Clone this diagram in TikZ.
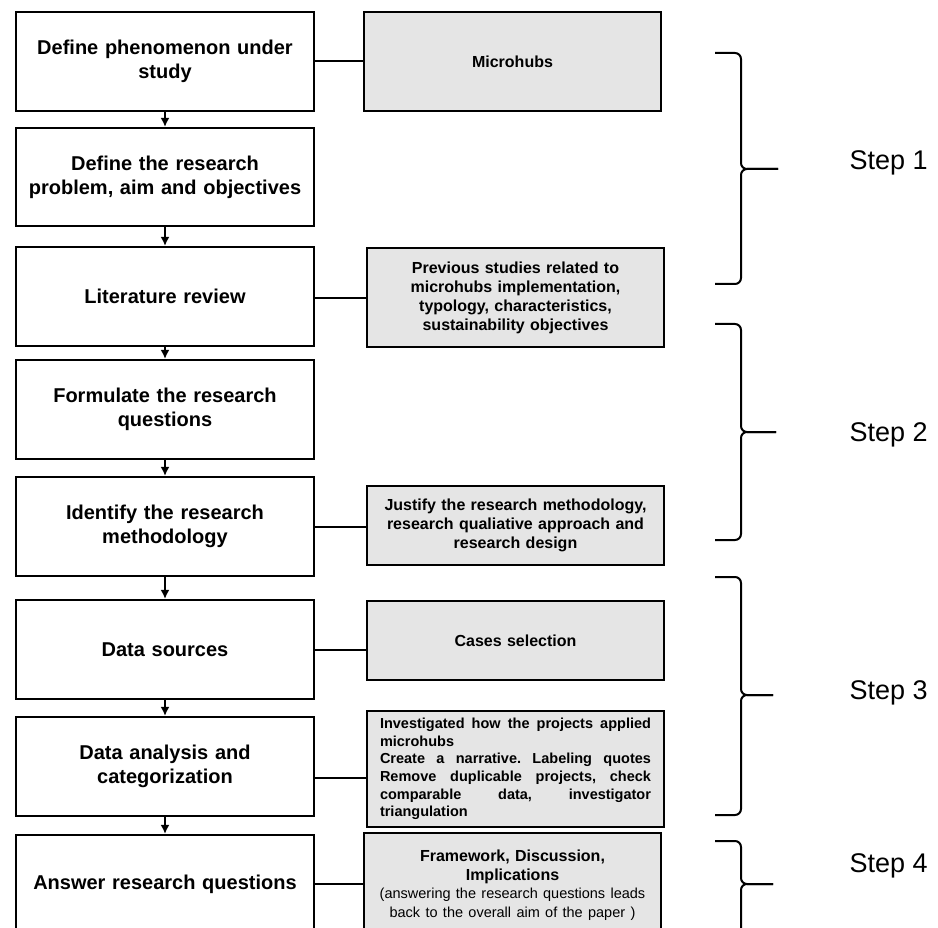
\documentclass[tikz,border=0pt]{standalone}
\usepackage{fontspec}
\setmainfont{Liberation Sans}
\usetikzlibrary{arrows.meta,positioning}
\definecolor{notegray}{RGB}{229,229,229}

\tikzset{
  stage/.style={draw, line width=2.2pt, fill=white, minimum width=298pt, text width=286pt, align=center, inner sep=0pt, font=\fontsize{20}{24}\selectfont\bfseries},
  note/.style={draw, line width=2.2pt, fill=notegray, minimum width=297pt, text width=274pt, align=center, inner sep=0pt, font=\fontsize{16}{19}\selectfont\bfseries},
  flow/.style={line width=1.8pt, -{Latex[length=9pt,width=9pt]}},
  link/.style={line width=2pt},
  curly/.style={line width=2pt, rounded corners=6pt},
  steplabel/.style={anchor=west, font=\fontsize{27}{30}\selectfont}
}

\begin{document}
\begin{tikzpicture}[x=1pt,y=-1pt]
    \useasboundingbox (0,0) rectangle (938,928);
    \clip (0,0) rectangle (938,928);

    \node[stage, minimum height=99pt] (phen) at (165,61.5) {Define phenomenon under\\study};
    \node[stage, minimum height=98pt] (prob) at (165,177) {Define the research\\problem, aim and objectives};
    \node[stage, minimum height=99pt] (lit) at (165,296.5) {Literature review};
    \node[stage, minimum height=99pt] (quest) at (165,409.5) {Formulate the research\\questions};
    \node[stage, minimum height=99pt] (meth) at (165,526.5) {Identify the research\\methodology};
    \node[stage, minimum height=99pt] (src) at (165,649.5) {Data sources};
    \node[stage, minimum height=99pt] (anal) at (165,766.5) {Data analysis and\\categorization};
    \node[stage, minimum height=98pt] (ans) at (165,884) {Answer research questions};

    \node[note, minimum height=99pt] (hubs) at (512.5,61.5) {Microhubs};
    \node[note, minimum height=99pt] (prev) at (515.5,297.5) {Previous studies related to\\microhubs implementation,\\typology, characteristics,\\sustainability objectives};
    \node[note, minimum height=79pt] (just) at (515.5,525.5) {Justify the research methodology,\\research qualiative approach and\\research design};
    \node[note, minimum height=79pt] (cases) at (515.5,640.5) {Cases selection};
    \node[note, minimum height=116pt, text width=271pt, align=left, font=\fontsize{14.5}{17.7}\selectfont\bfseries] (inv) at (515.5,769)
        {\hbox to 271pt{Investigated\hfill how\hfill the\hfill projects\hfill applied}
         microhubs\\
         \hbox to 271pt{Create\hfill a\hfill narrative.\hfill Labeling\hfill quotes}
         \hbox to 271pt{Remove\hfill duplicable\hfill projects,\hfill check}
         \hbox to 271pt{comparable\hfill data,\hfill investigator}
         triangulation};
    \node[note, minimum height=104pt, font=\fontsize{16}{18.5}\selectfont\bfseries] (frame) at (512.5,885)
        {Framework, Discussion,\\Implications\\
         {\mdseries\fontsize{14.5}{18.5}\selectfont (answering the research questions leads\\back to the overall aim of the paper )}};

    \foreach \a/\b in {phen/prob, prob/lit, lit/quest, quest/meth, meth/src, src/anal, anal/ans}
        \draw[flow] (\a) -- (\b);

    \draw[link] (phen.east) -- (phen.east -| hubs.west);
    \draw[link] ([yshift=-1.5pt]lit.east) -- ([yshift=-1.5pt]lit.east -| prev.west);
    \draw[link] (meth.east) -- (meth.east -| just.west);
    \draw[link] (src.east) -- (src.east -| cases.west);
    \draw[link] ([yshift=-11.5pt]anal.east) -- ([yshift=-11.5pt]anal.east -| inv.west);
    \draw[link] (ans.east) -- (ans.east -| frame.west);

    \foreach \t/\m/\b/\tip/\ly/\n in {53/169/284/778/163/1, 324/432/540/776/435/2, 577/695/815/773/693/3, 841/884/950/773/866/4} {
        \draw[curly] (715,\t) -- (741,\t) -- (741,\m) -- (\tip,\m);
        \draw[curly] (\tip,\m) -- (741,\m) -- (741,\b) -- (715,\b);
        \node[steplabel] (step\n) at (846,\ly) {Step \n};
    }
\end{tikzpicture}
\end{document}
